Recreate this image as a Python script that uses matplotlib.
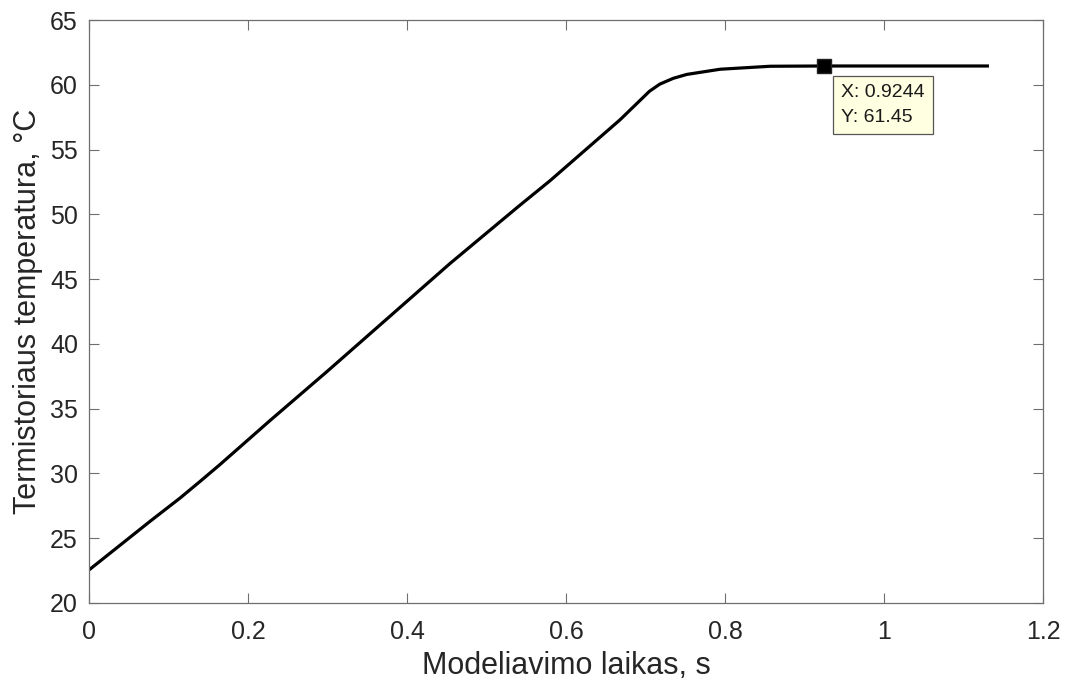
import numpy as np
import matplotlib
matplotlib.use("Agg")
import matplotlib.pyplot as plt

plt.rcParams['font.family'] = ['Liberation Sans', 'DejaVu Sans']

# curve
time_s = [0.0, 0.0767, 0.1145, 0.14, 0.165, 0.228, 0.3, 0.454, 0.54, 0.58,
          0.668, 0.705, 0.718, 0.735, 0.752, 0.794, 0.857, 0.9244, 1.0, 1.13]
temp_c = [22.55, 26.3, 28.1, 29.4, 30.7, 34.1, 37.9, 46.2, 50.6, 52.6,
          57.3, 59.5, 60.05, 60.5, 60.8, 61.2, 61.43, 61.45, 61.45, 61.45]

tip_x = 0.9244
tip_y = 61.45

text_col = '#262626'
axis_col = '#6e6e6e'

fig = plt.figure(figsize=(10.71, 6.88), dpi=100)
ax = fig.add_axes([89/1071, 1 - 603/688, 954/1071, 583/688])

ax.plot(time_s, temp_c, '-k', linewidth=2.3)
ax.plot(tip_x, tip_y, 's', color='k', markersize=9.5, markeredgecolor='#222222')

ax.annotate('X: %.4f\nY: %.2f' % (tip_x, tip_y), xy=(tip_x, tip_y),
            xytext=(17, -18), textcoords='offset pixels', ha='left', va='top',
            fontsize=14, color='#1a1a1a', linespacing=1.6,
            bbox=dict(boxstyle='square,pad=0.42', fc='#ffffe1', ec='#555555', lw=0.9))

ax.set_xlim(0, 1.2)
ax.set_ylim(20, 65)
ax.set_xticks(np.arange(0, 1.21, 0.2))
ax.set_xticklabels(['0', '0.2', '0.4', '0.6', '0.8', '1', '1.2'])
ax.set_yticks(np.arange(20, 66, 5))

ax.tick_params(direction='in', top=True, right=True, length=7, width=0.8,
               colors=axis_col, labelcolor=text_col, labelsize=18)
ax.tick_params(axis='y', pad=8)
ax.tick_params(axis='x', pad=12)
for s in ax.spines.values():
    s.set_color(axis_col)
    s.set_linewidth(0.9)

ax.set_xlabel('Modeliavimo laikas, s', fontsize=22, color=text_col, labelpad=5)
ax.set_ylabel('Termistoriaus temperatura, \u00b0C', fontsize=22, color=text_col, labelpad=5)

fig.savefig('out.png', dpi=100)
